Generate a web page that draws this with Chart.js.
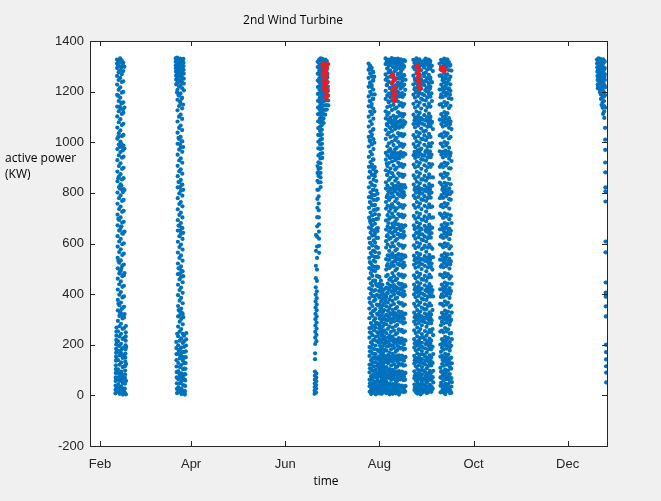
<!DOCTYPE html>
<html lang="en">

<head>
    <meta charset="UTF-8">
    <title>2nd Wind Turbine</title>
    <script src="https://cdn.jsdelivr.net/npm/chart.js@4.4.0/dist/chart.umd.min.js"></script>
    <style>
        body {
            margin: 0;
            background: #f0f0f0;
        }

        .graph-container {
            width: 661px;
            height: 501px;
            overflow: hidden;
        }
    </style>
</head>

<body>
    <div class="graph-container">
        <canvas id="myChart" width="661" height="501"></canvas>
    </div>

    <script>
        // axis ticks (x is day of year, Jan 1 = 0)
        const xTickDays = [31, 90, 151, 212, 273, 334];
        const xTickLabels = ['Feb', 'Apr', 'Jun', 'Aug', 'Oct', 'Dec'];
        const yTicks = [1400, 1200, 1000, 800, 600, 400, 200, 0, -200];

        // active power samples (KW), one list per day
        const febDays = [41, 42, 43, 44, 45, 46, 47];
        const febPower = [
            [8, 22, 39, 57, 71, 88, 104, 119, 137, 153, 168, 184, 201, 219, 236, 252, 268, 31, 96, 143, 211, 14, 63, 177],
            [1327, 1311, 1293, 1262, 1228, 1187, 1141, 1102, 1058, 1014, 973, 929, 884, 846, 801, 757, 714, 672, 629, 588, 543, 502, 461, 418, 377, 336, 294, 253, 214, 176, 139, 103, 71, 44, 17, 1302, 1183, 1021, 858, 697, 531, 362, 197, 88, 29],
            [1320, 1302, 1277, 1246, 1207, 1163, 1122, 1079, 1036, 991, 948, 906, 864, 823, 779, 736, 693, 651, 608, 566, 524, 481, 439, 398, 356, 314, 273, 233, 195, 158, 121, 86, 57, 29, 6, 1314, 1141, 982, 817, 653, 489, 327, 169, 77, 18],
            [1331, 1316, 1284, 1254, 1217, 1176, 1133, 1091, 1047, 1003, 961, 917, 874, 834, 790, 746, 703, 662, 618, 577, 533, 492, 450, 408, 367, 325, 283, 243, 204, 167, 130, 94, 63, 36, 12, 1296, 1157, 994, 829, 668, 503, 341, 182, 83, 26],
            [1324, 1298, 1269, 1238, 1196, 1153, 1112, 1068, 1024, 982, 939, 895, 853, 812, 768, 725, 683, 640, 597, 555, 513, 471, 429, 387, 345, 304, 263, 223, 186, 148, 112, 79, 49, 23, 3, 1309, 1129, 968, 803, 639, 476, 313, 156, 69, 14],
            [1315, 1281, 1241, 1199, 1158, 1117, 1073, 1029, 987, 943, 899, 858, 815, 772, 729, 686, 645, 601, 560, 517, 475, 433, 391, 350, 308, 266, 227, 189, 151, 115, 82, 51, 25, 1298, 1137, 975, 811, 647, 483, 321, 161, 72, 9],
            [11, 27, 46, 63, 82, 98, 116, 133, 149, 165, 182, 198, 216, 233, 249, 274, 4, 57, 124, 191]
        ];

        const marDays = [80, 81, 82, 83, 84, 85, 86];
        const marPower = [
            [1331, 1318, 1304, 1292, 1279, 1263, 1248, 1229, 211, 187, 163, 139, 114, 92, 71, 48, 26, 9, 1197, 243],
            [1334, 1321, 1308, 1296, 1283, 1269, 1254, 1236, 1207, 1168, 1126, 1082, 1038, 994, 951, 907, 866, 822, 779, 735, 692, 651, 607, 564, 521, 479, 437, 396, 353, 312, 272, 234, 198, 163, 128, 96, 64, 33, 12, 1314, 1187, 1017, 843, 671, 502, 337, 176, 89, 23],
            [1327, 1313, 1299, 1287, 1273, 1259, 1241, 1219, 1184, 1143, 1101, 1057, 1013, 971, 928, 885, 843, 798, 756, 713, 671, 629, 586, 543, 501, 458, 416, 374, 333, 291, 252, 216, 181, 146, 112, 79, 48, 21, 1322, 1161, 992, 823, 651, 482, 318, 159, 71, 14],
            [1330, 1316, 1302, 1289, 1276, 1262, 1245, 1226, 1193, 1152, 1109, 1066, 1021, 979, 936, 893, 851, 808, 764, 722, 681, 638, 596, 553, 510, 468, 426, 385, 343, 302, 262, 225, 189, 154, 120, 87, 56, 27, 5, 1309, 1172, 1003, 832, 662, 491, 327, 168, 78, 19],
            [1324, 1310, 1297, 1284, 1270, 1256, 1238, 1214, 1176, 1134, 1092, 1048, 1004, 962, 919, 876, 833, 789, 747, 703, 661, 618, 576, 532, 490, 447, 405, 364, 322, 281, 243, 207, 172, 137, 104, 72, 41, 16, 1317, 1149, 981, 812, 642, 471, 309, 151, 63, 9],
            [1329, 1314, 1301, 1286, 1271, 1251, 1232, 1205, 236, 214, 192, 171, 149, 127, 106, 84, 62, 39, 18, 3],
            [14, 37, 59, 83, 105, 128, 151, 174, 197, 221, 246]
        ];

        const junDays = [170, 171, 172, 173, 174, 175, 176, 177, 178];
        const junPower = [
            [6, 19, 33, 47, 62, 78, 94, 143, 166, 203, 228, 251, 276, 301, 322, 347, 371, 398, 427, 463, 512, 571, 634],
            [11, 27, 41, 56, 71, 86, 214, 239, 264, 288, 312, 336, 359, 384, 411, 452, 497, 543, 588, 627, 668, 704, 741, 776, 812, 848, 879, 906],
            [1318, 1297, 1271, 1244, 1218, 1191, 1164, 1137, 1111, 1083, 1056, 1029, 1002, 976, 948, 921, 894, 867, 841, 813, 786, 758, 731, 703, 676, 647, 619, 591, 563],
            [1327, 1312, 1298, 1283, 1268, 1253, 1237, 1222, 1206, 1191, 1175, 1159, 1143, 1127, 1111, 1094, 1078, 1061, 1044, 1027, 1009, 991, 973, 954, 936, 917, 898, 879, 861, 842, 823],
            [1331, 1317, 1303, 1289, 1274, 1259, 1244, 1229, 1213, 1198, 1182, 1166, 1150, 1134, 1117, 1101, 1084, 1067, 1049, 1031, 1013, 994, 976, 957, 938],
            [1329, 1315, 1301, 1286, 1272, 1257, 1241, 1226, 1210, 1194, 1178, 1161, 1145, 1128, 1111, 1093, 1076],
            [1324, 1309, 1294, 1279, 1263, 1247, 1231, 1215, 1198, 1181, 1164, 1146, 1128, 1109],
            [1327, 1313, 1298, 1283, 1267, 1251, 1235, 1218, 1201, 1184, 1166, 1147, 1129],
            [1321, 1305, 1289, 1272, 1255, 1238, 1220, 1202, 1184, 1165, 1146]
        ];

        const augDays = [205, 206, 207, 208, 209, 210, 211, 212, 213, 214, 215,
            216, 217, 218, 219, 220, 221, 222, 223, 224, 225, 226, 227, 228,
            234, 235, 236, 237, 238, 239, 240, 241, 242, 243, 244, 245, 246,
            251, 252, 253, 254, 255, 256, 257, 258];
        const augPower = [
            [1311, 1286, 1254, 1219, 1181, 1142, 1101, 1062, 1021, 983, 942, 903, 861, 822, 783, 741, 702, 663, 621, 582, 543, 503, 462, 423, 384, 343, 305, 266, 228, 191, 156, 122, 91, 62, 36, 14, 1297, 1163, 1007, 884, 764, 603, 527, 368, 249, 174, 107, 48, 1232, 689],
            [1303, 1272, 1237, 1199, 1162, 1121, 1083, 1041, 1002, 962, 922, 882, 841, 802, 761, 722, 681, 642, 602, 562, 522, 483, 443, 402, 363, 324, 286, 247, 209, 173, 139, 106, 76, 48, 24, 5, 1289, 1141, 1023, 903, 781, 657, 498, 417, 267, 189, 121, 63, 11, 1218],
            [1294, 1261, 1226, 1189, 1151, 1111, 1072, 1031, 991, 952, 912, 871, 832, 792, 751, 711, 672, 631, 592, 551, 512, 472, 433, 393, 353, 314, 276, 238, 201, 165, 131, 99, 69, 42, 19, 1279, 1172, 1049, 931, 812, 693, 571, 452, 333, 217, 148, 82, 31, 1247],
            [1277, 1243, 1208, 1171, 1132, 1093, 1052, 1012, 973, 932, 893, 852, 812, 772, 732, 692, 652, 612, 572, 532, 493, 453, 413, 373, 334, 296, 257, 219, 183, 148, 115, 84, 55, 30, 9, 1259, 1121, 998, 873, 751, 633, 508, 391, 276, 163, 97, 41, 1189, 547],
            [902, 866, 828, 791, 753, 716, 678, 641, 603, 566, 528, 491, 453, 416, 378, 341, 304, 268, 232, 197, 163, 131, 101, 72, 46, 22, 4, 884, 734, 588, 441, 287, 147, 87, 36],
            [884, 847, 809, 772, 734, 697, 659, 622, 584, 547, 509, 472, 434, 397, 359, 322, 286, 250, 214, 180, 147, 116, 86, 59, 33, 12, 797, 649, 503, 358, 233, 126, 72, 23],
            [776, 737, 698, 661, 622, 583, 546, 507, 469, 431, 393, 355, 318, 281, 245, 209, 175, 142, 111, 82, 54, 29, 8, 713, 562, 412, 265, 154, 96, 41, 18],
            [468, 441, 413, 386, 358, 331, 303, 276, 249, 222, 196, 171, 146, 122, 99, 77, 55, 35, 16, 427, 344, 262, 183, 133, 88, 44, 7],
            [453, 425, 397, 370, 342, 315, 289, 262, 236, 210, 184, 159, 134, 111, 88, 66, 45, 25, 7, 411, 329, 246, 171, 121, 77, 34],
            [437, 409, 381, 354, 327, 300, 273, 247, 221, 195, 170, 145, 121, 98, 76, 54, 34, 14, 398, 312, 233, 158, 109, 64, 24],
            [419, 391, 364, 337, 310, 283, 257, 231, 205, 180, 155, 131, 108, 85, 63, 43, 22, 376, 298, 218, 142, 96, 52, 11],
            [1331, 1309, 1268, 1247, 1203, 1171, 1122, 1094, 1049, 1013, 958, 931, 889, 842, 817, 764, 738, 691, 655, 609, 584, 538, 497, 471, 426, 389, 352, 318, 281, 246, 209, 177, 148, 112, 84, 53, 31, 9, 1318, 1226, 1072, 916, 783, 629, 512, 404, 299, 193, 138, 72, 22, 871],
            [1322, 1291, 1255, 1226, 1184, 1139, 1108, 1067, 1031, 984, 947, 906, 871, 829, 791, 749, 712, 668, 633, 596, 553, 519, 476, 442, 403, 367, 334, 296, 263, 228, 194, 159, 127, 98, 69, 42, 17, 1309, 1241, 1089, 963, 806, 681, 535, 417, 312, 211, 143, 81, 29, 1162],
            [1327, 1301, 1276, 1238, 1192, 1157, 1116, 1079, 1038, 996, 967, 918, 883, 851, 803, 772, 726, 697, 647, 618, 571, 537, 503, 457, 421, 379, 345, 307, 272, 237, 203, 168, 136, 104, 76, 47, 24, 4, 1315, 1214, 1059, 938, 819, 661, 553, 434, 325, 223, 151, 89, 36, 747],
            [1318, 1284, 1259, 1214, 1178, 1143, 1097, 1056, 1021, 973, 939, 896, 859, 813, 781, 737, 703, 659, 622, 587, 547, 509, 463, 432, 391, 356, 321, 287, 251, 219, 182, 151, 118, 89, 61, 36, 12, 1326, 1193, 1076, 952, 797, 643, 521, 409, 298, 197, 136, 74, 25, 1236],
            [1332, 1305, 1273, 1231, 1199, 1164, 1127, 1086, 1044, 1002, 961, 924, 878, 836, 798, 756, 718, 679, 641, 602, 561, 526, 483, 449, 412, 373, 338, 301, 268, 232, 197, 164, 133, 101, 72, 45, 21, 6, 1318, 1181, 1063, 941, 817, 667, 546, 427, 318, 214, 149, 86, 33, 1254],
            [1324, 1296, 1262, 1221, 1186, 1148, 1104, 1069, 1026, 989, 944, 908, 866, 827, 786, 744, 706, 664, 629, 589, 549, 512, 471, 436, 398, 361, 327, 292, 256, 221, 188, 154, 122, 93, 64, 38, 15, 1311, 1205, 1083, 958, 806, 648, 529, 413, 306, 204, 139, 78, 27, 1164],
            [1329, 1312, 1281, 1249, 1208, 1169, 1133, 1091, 1052, 1009, 972, 929, 892, 848, 809, 767, 729, 688, 649, 611, 572, 532, 494, 455, 417, 382, 343, 309, 274, 241, 206, 172, 141, 109, 79, 52, 27, 8, 1297, 1226, 1069, 947, 828, 676, 552, 428, 321, 219, 155, 92, 41, 1187],
            [1316, 1287, 1252, 1217, 1176, 1137, 1099, 1058, 1017, 978, 935, 899, 856, 818, 776, 739, 697, 657, 617, 578, 539, 501, 461, 424, 386, 349, 314, 279, 246, 212, 179, 146, 114, 86, 58, 33, 11, 1324, 1201, 1078, 956, 798, 637, 519, 405, 296, 195, 131, 69, 20, 1268],
            [1330, 1307, 1271, 1236, 1197, 1161, 1119, 1081, 1036, 1001, 956, 919, 877, 839, 794, 759, 716, 676, 637, 598, 558, 521, 479, 443, 405, 368, 332, 298, 261, 226, 191, 158, 125, 96, 67, 41, 19, 3, 1316, 1182, 1057, 936, 813, 662, 537, 421, 313, 209, 143, 82, 30, 1251],
            [1321, 1293, 1258, 1224, 1181, 1146, 1106, 1064, 1027, 986, 948, 907, 868, 826, 788, 746, 708, 667, 626, 592, 551, 514, 473, 437, 399, 362, 326, 291, 255, 222, 186, 153, 121, 91, 63, 37, 14, 1308, 1212, 1087, 961, 809, 653, 532, 418, 309, 207, 141, 79, 26, 1279],
            [1328, 1302, 1266, 1233, 1191, 1155, 1113, 1074, 1033, 994, 953, 914, 873, 832, 796, 752, 714, 673, 634, 593, 556, 516, 477, 441, 402, 365, 329, 294, 259, 224, 189, 157, 124, 94, 65, 39, 16, 1312, 1194, 1072, 949, 817, 665, 541, 425, 317, 213, 147, 84, 31, 1243],
            [1319, 1289, 1256, 1219, 1179, 1141, 1101, 1061, 1024, 982, 943, 902, 863, 821, 783, 741, 703, 662, 623, 583, 544, 506, 467, 428, 392, 354, 318, 284, 249, 214, 181, 149, 117, 88, 60, 34, 13, 1303, 1227, 1084, 957, 803, 646, 525, 411, 303, 201, 137, 75, 24, 1265],
            [1325, 1298, 1264, 1228, 1188, 1151, 1111, 1071, 1031, 991, 951, 911, 871, 831, 791, 751, 711, 671, 631, 591, 553, 513, 474, 436, 397, 359, 323, 288, 253, 218, 184, 151, 119, 90, 62, 36, 15, 1321, 1207, 1079, 953, 821, 671, 548, 431, 322, 216, 152, 88, 37, 1247],
            [1326, 1297, 1263, 1229, 1188, 1152, 1109, 1072, 1028, 993, 949, 912, 869, 833, 789, 752, 709, 672, 631, 593, 552, 516, 474, 438, 399, 362, 327, 291, 257, 222, 189, 156, 126, 95, 68, 43, 21, 1313, 1209, 1087, 962, 812, 657, 534, 418, 309, 205, 139, 77, 31, 1246],
            [1318, 1288, 1251, 1214, 1176, 1137, 1098, 1059, 1017, 981, 938, 901, 857, 821, 779, 741, 698, 662, 619, 582, 541, 504, 463, 427, 388, 351, 316, 281, 246, 212, 178, 147, 115, 86, 59, 34, 12, 1306, 1197, 1075, 953, 801, 641, 523, 407, 298, 196, 132, 71, 24, 1233],
            [1331, 1304, 1273, 1238, 1199, 1161, 1121, 1083, 1041, 1004, 962, 923, 883, 844, 802, 764, 722, 684, 643, 604, 563, 526, 486, 448, 409, 373, 337, 302, 268, 233, 199, 166, 135, 104, 76, 49, 26, 7, 1321, 1218, 1092, 969, 818, 663, 541, 424, 316, 211, 146, 83, 36, 1285],
            [1322, 1292, 1258, 1221, 1183, 1144, 1104, 1066, 1024, 987, 944, 906, 864, 826, 784, 746, 704, 667, 625, 588, 547, 509, 469, 432, 393, 357, 321, 286, 251, 217, 183, 151, 119, 90, 63, 38, 16, 1312, 1203, 1083, 958, 806, 648, 527, 412, 304, 201, 136, 75, 27, 1241],
            [1328, 1301, 1268, 1233, 1194, 1156, 1116, 1077, 1036, 998, 957, 918, 877, 838, 797, 758, 717, 678, 637, 599, 558, 520, 480, 443, 404, 367, 331, 296, 262, 227, 193, 161, 129, 99, 71, 45, 22, 4, 1317, 1214, 1096, 971, 815, 659, 538, 421, 312, 208, 143, 81, 33, 1249],
            [1316, 1284, 1247, 1211, 1172, 1133, 1093, 1054, 1013, 975, 933, 895, 853, 816, 774, 736, 694, 657, 615, 578, 537, 499, 459, 422, 383, 347, 312, 277, 242, 208, 175, 143, 112, 83, 56, 31, 10, 1304, 1191, 1073, 949, 798, 636, 518, 402, 293, 191, 128, 67, 20, 1229],
            [1307, 1241, 1168, 1089, 1012, 931, 853, 772, 694, 613, 536, 457, 379, 303, 229, 161, 98, 44, 14, 1271, 1043, 812, 583, 341, 127, 61],
            [1324, 1295, 1261, 1226, 1186, 1148, 1107, 1069, 1027, 990, 947, 909, 867, 829, 787, 749, 707, 670, 628, 591, 550, 512, 472, 435, 396, 360, 324, 289, 254, 220, 186, 154, 122, 92, 65, 40, 18, 1315, 1206, 1086, 961, 809, 653, 531, 415, 307, 203, 138, 76, 29, 1243],
            [1330, 1306, 1275, 1241, 1203, 1165, 1125, 1087, 1045, 1008, 966, 927, 887, 848, 806, 768, 726, 688, 647, 608, 567, 530, 490, 452, 413, 377, 341, 306, 271, 236, 202, 169, 138, 107, 79, 52, 28, 9, 1319, 1216, 1094, 968, 817, 662, 539, 422, 314, 209, 145, 82, 35, 1252],
            [1319, 1287, 1252, 1216, 1177, 1139, 1099, 1061, 1019, 982, 939, 901, 859, 822, 779, 742, 700, 663, 621, 584, 543, 505, 465, 428, 389, 353, 318, 283, 248, 214, 181, 148, 116, 87, 60, 35, 13, 1308, 1198, 1079, 955, 803, 645, 525, 409, 301, 198, 134, 73, 26, 1234],
            [1327, 1299, 1266, 1230, 1191, 1153, 1113, 1074, 1033, 995, 953, 915, 873, 835, 793, 755, 713, 675, 634, 596, 555, 517, 477, 440, 401, 364, 328, 293, 258, 224, 190, 158, 126, 97, 69, 43, 20, 1314, 1211, 1089, 964, 812, 656, 535, 418, 309, 206, 141, 79, 31, 1247],
            [1321, 1290, 1255, 1219, 1180, 1141, 1101, 1063, 1021, 984, 941, 903, 861, 824, 781, 744, 702, 665, 623, 586, 545, 507, 467, 430, 391, 355, 320, 285, 250, 216, 182, 150, 118, 89, 61, 36, 14, 1303, 1193, 1076, 951, 801, 641, 521, 405, 297, 194, 131, 70, 22, 1236],
            [1302, 1238, 1163, 1081, 997, 913, 829, 746, 662, 579, 497, 416, 337, 262, 192, 128, 72, 27, 1281, 1052, 861, 703, 546, 391, 238, 163, 97, 51],
            [1311, 1263, 1208, 1149, 1089, 1027, 964, 903, 841, 779, 718, 656, 596, 536, 477, 419, 362, 306, 252, 201, 153, 109, 71, 38, 12, 1287, 1178, 995, 872, 748, 627, 509, 389, 277, 172, 93, 49],
            [1326, 1298, 1264, 1228, 1189, 1151, 1111, 1072, 1031, 993, 951, 913, 871, 833, 791, 753, 711, 673, 632, 594, 553, 515, 475, 438, 399, 362, 326, 291, 256, 222, 188, 156, 124, 95, 67, 41, 18, 1316, 1207, 1087, 962, 812, 657, 535, 419, 309, 206, 140, 78, 29, 1245],
            [1319, 1289, 1254, 1218, 1179, 1140, 1100, 1062, 1020, 983, 940, 902, 860, 823, 780, 743, 701, 664, 622, 585, 544, 506, 466, 429, 390, 354, 319, 284, 249, 215, 181, 149, 117, 88, 60, 35, 11, 1309, 1199, 1081, 957, 804, 648, 527, 411, 303, 200, 135, 74, 25, 1238],
            [1330, 1304, 1271, 1236, 1197, 1159, 1119, 1080, 1039, 1001, 959, 920, 879, 840, 799, 760, 719, 681, 640, 601, 561, 523, 483, 446, 407, 371, 335, 300, 266, 231, 197, 164, 133, 102, 74, 47, 24, 5, 1318, 1213, 1092, 967, 815, 661, 538, 421, 313, 208, 144, 81, 33, 1251],
            [1322, 1293, 1259, 1223, 1184, 1146, 1106, 1067, 1026, 988, 946, 908, 866, 828, 786, 748, 706, 669, 627, 590, 549, 511, 471, 434, 395, 359, 323, 288, 253, 219, 185, 153, 121, 92, 64, 39, 16, 1307, 1195, 1078, 953, 801, 643, 523, 407, 299, 197, 133, 72, 23, 1236],
            [1328, 1301, 1268, 1232, 1193, 1155, 1115, 1076, 1035, 997, 955, 917, 875, 837, 795, 757, 715, 677, 636, 598, 557, 519, 479, 442, 403, 367, 331, 296, 261, 227, 193, 161, 129, 99, 71, 45, 21, 1314, 1209, 1088, 962, 811, 655, 533, 417, 308, 204, 139, 77, 28, 1246],
            [1317, 1285, 1249, 1213, 1174, 1135, 1095, 1057, 1015, 978, 935, 897, 855, 818, 775, 738, 696, 659, 617, 580, 539, 501, 461, 424, 385, 349, 314, 279, 244, 210, 177, 145, 113, 84, 57, 32, 9, 1302, 1188, 1071, 947, 796, 637, 517, 401, 292, 191, 127, 66, 18, 1229],
            [1306, 1259, 1203, 1144, 1083, 1021, 958, 897, 834, 773, 711, 650, 589, 529, 470, 412, 355, 299, 246, 196, 149, 106, 68, 35, 10, 1283, 1171, 1052, 926, 803, 681, 559, 441, 327, 222, 127, 52]
        ];

        const decDays = [353, 354, 355, 356, 357, 358];
        const decPower = [
            [1327, 1311, 1296, 1279, 1262, 1246, 1229, 1213, 1319, 1287, 1254, 1221],
            [1331, 1316, 1301, 1287, 1272, 1257, 1241, 1226, 1210, 1323, 1294, 1264, 1234, 1198],
            [1329, 1314, 1299, 1284, 1268, 1253, 1238, 1222, 1206, 1189, 1171, 1320, 1291, 1261, 1230, 1147],
            [1325, 1309, 1293, 1277, 1261, 1244, 1228, 1211, 1194, 1176, 1157, 1136, 1317, 1285, 1252, 1219, 1112],
            [1328, 1312, 1297, 1281, 1265, 1249, 1232, 1216, 1199, 1181, 1163, 1143, 1121, 1096, 1321, 1289, 1258, 1224],
            [1318, 1293, 1269, 1246, 1217, 1186, 1137, 1057, 1010, 970, 920, 881, 822, 806, 766, 608, 565, 446, 406, 390, 352, 312, 200, 171, 142, 115, 90, 51]
        ];

        // highlighted samples (red)
        const redDays = [175, 176, 177, 178, 220, 221, 222, 236, 237, 238, 252, 253, 254];
        const redPower = [
            [1302, 1271, 1243, 1218],
            [1311, 1288, 1259, 1231, 1204, 1176],
            [1306, 1279, 1252, 1226, 1197, 1172, 1293],
            [1298, 1267, 1238, 1211, 1185, 1309],
            [1262, 1234, 1207, 1179],
            [1268, 1241, 1213, 1186, 1161, 1252, 1197],
            [1247, 1219, 1192, 1168],
            [1299, 1274, 1248],
            [1303, 1281, 1257, 1232, 1209, 1268, 1221],
            [1289, 1263, 1238, 1214],
            [1297, 1284],
            [1299, 1288, 1281, 1294],
            [1292, 1283]
        ];

        // samples of one day are spread over that day
        function toPoints(days, power) {
            const pts = [];
            days.forEach((d, i) => {
                const vals = power[i];
                vals.forEach((v, j) => pts.push({ x: d + j / vals.length, y: v }));
            });
            return pts;
        }

        const bluePoints = [].concat(
            toPoints(febDays, febPower),
            toPoints(marDays, marPower),
            toPoints(junDays, junPower),
            toPoints(augDays, augPower),
            toPoints(decDays, decPower)
        );
        const redPoints = toPoints(redDays, redPower);

        const axisColor = '#262626';

        // MATLAB style axes: white box, inward ticks on all sides, labels
        const matlabAxes = {
            id: 'matlabAxes',
            beforeDatasetsDraw(chart) {
                const { ctx, chartArea: a } = chart;
                ctx.save();
                ctx.fillStyle = '#ffffff';
                ctx.fillRect(a.left, a.top, a.right - a.left, a.bottom - a.top);
                ctx.restore();
            },
            afterDraw(chart) {
                const { ctx, chartArea: a } = chart;
                const xs = chart.scales.x;
                const ys = chart.scales.y;
                const tl = 5;
                ctx.save();
                ctx.strokeStyle = axisColor;
                ctx.lineWidth = 1;
                ctx.strokeRect(a.left + 0.5, a.top + 0.5, a.right - a.left, a.bottom - a.top);

                ctx.beginPath();
                yTicks.forEach(v => {
                    const py = Math.round(ys.getPixelForValue(v)) + 0.5;
                    ctx.moveTo(a.left, py); ctx.lineTo(a.left + tl, py);
                    ctx.moveTo(a.right, py); ctx.lineTo(a.right - tl, py);
                });
                xTickDays.forEach(v => {
                    const px = Math.round(xs.getPixelForValue(v)) + 0.5;
                    ctx.moveTo(px, a.bottom); ctx.lineTo(px, a.bottom - tl);
                    ctx.moveTo(px, a.top); ctx.lineTo(px, a.top + tl);
                });
                ctx.stroke();

                ctx.fillStyle = axisColor;
                ctx.font = '13px "Liberation Sans", Arial, sans-serif';
                ctx.textAlign = 'right';
                ctx.textBaseline = 'middle';
                yTicks.forEach(v => {
                    ctx.fillText(String(v), a.left - 6, ys.getPixelForValue(v));
                });
                ctx.textAlign = 'center';
                xTickDays.forEach((v, i) => {
                    ctx.fillText(xTickLabels[i], xs.getPixelForValue(v), a.bottom + 18);
                });

                ctx.fillStyle = '#000000';
                ctx.font = '12px "Open Sans", sans-serif';
                ctx.fillText('2nd Wind Turbine', 293, 21);
                ctx.fillText('time', 326, 482);
                ctx.textAlign = 'left';
                ctx.fillText('active power', 5, 159);
                ctx.fillText('(KW)', 5, 175);
                ctx.restore();
            }
        };

        const ctx = document.getElementById('myChart').getContext('2d');
        const chart = new Chart(ctx, {
            type: 'scatter',
            data: {
                datasets: [{
                    label: 'highlighted',
                    data: redPoints,
                    backgroundColor: 'rgb(236,28,36)',
                    pointRadius: 2.1,
                    pointBorderWidth: 0,
                    pointHoverRadius: 2.1
                }, {
                    label: 'active power',
                    data: bluePoints,
                    backgroundColor: 'rgb(0,114,189)',
                    pointRadius: 2.1,
                    pointBorderWidth: 0,
                    pointHoverRadius: 2.1
                }]
            },
            options: {
                responsive: false,
                animation: false,
                events: [],
                layout: {
                    padding: { left: 90, right: 54, top: 41, bottom: 55 }
                },
                plugins: {
                    legend: { display: false },
                    tooltip: { enabled: false }
                },
                scales: {
                    x: { type: 'linear', min: 24.5, max: 359.5, display: false },
                    y: { type: 'linear', min: -200, max: 1400, display: false }
                }
            },
            plugins: [matlabAxes]
        });
    </script>
</body>

</html>
